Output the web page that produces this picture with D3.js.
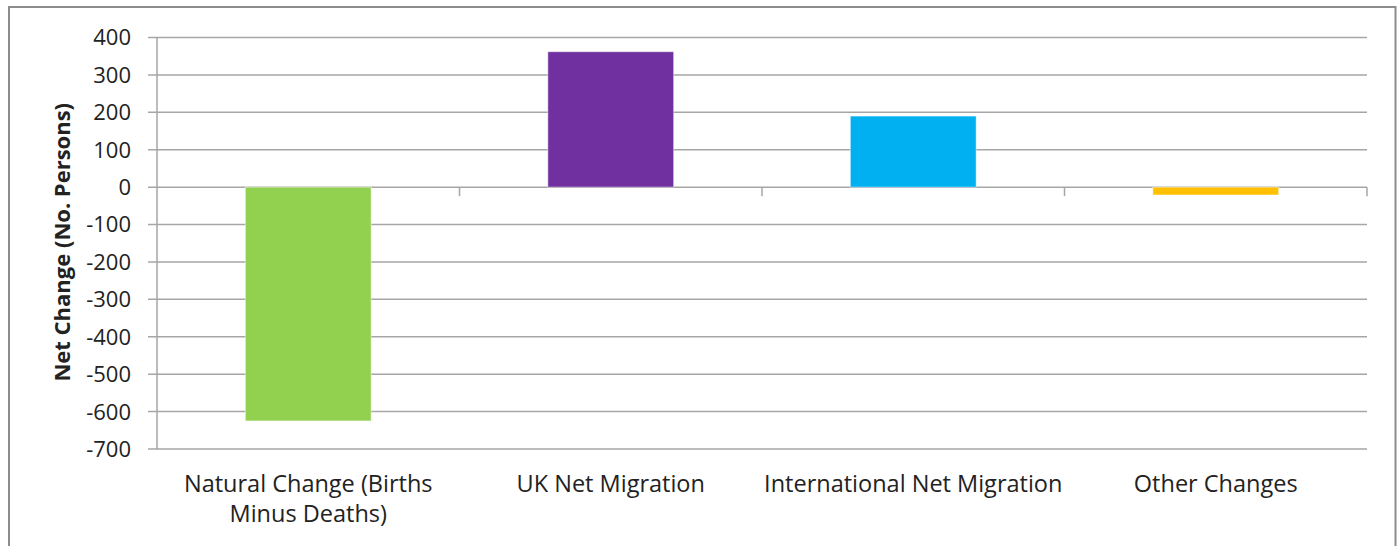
<!DOCTYPE html>
<html>
<head>
<meta charset="utf-8">
<script src="https://cdn.jsdelivr.net/npm/d3@7"></script>
<style>
  body { margin: 0; background: #fff; }
  text { font-family: "Open Sans", "Liberation Sans", sans-serif; fill: #222; }
</style>
</head>
<body>
<div id="viz"></div>
<script>
// data
const categories = ["Natural Change (Births Minus Deaths)", "UK Net Migration", "International Net Migration", "Other Changes"];
const labelLines = [["Natural Change (Births", "Minus Deaths)"], ["UK Net Migration"], ["International Net Migration"], ["Other Changes"]];
const values = [-625, 362, 190, -21];
const barColors = ["#92D050", "#7030A0", "#00B0F0", "#FFC000"];
const yTicks = [400, 300, 200, 100, 0, -100, -200, -300, -400, -500, -600, -700];

const width = 1400;
const height = 546;
const margin = {top: 37.5, right: 33, bottom: 97, left: 157};

const svg = d3.select("#viz").append("svg")
    .attr("width", width)
    .attr("height", height);

// outer chart frame
svg.append("rect")
    .attr("x", 9)
    .attr("y", 7)
    .attr("width", 1386.5)
    .attr("height", 560)
    .attr("fill", "none")
    .attr("stroke", "#8c8c8c")
    .attr("stroke-width", 2);

const x = d3.scaleBand()
    .domain(categories)
    .range([margin.left, width - margin.right])
    .paddingInner(0.584)
    .paddingOuter(0.292);

const y = d3.scaleLinear()
    .domain([-700, 400])
    .range([height - margin.bottom, margin.top]);

// gridlines
svg.append("g")
    .selectAll("line")
    .data(yTicks)
    .join("line")
    .attr("x1", margin.left - 9)
    .attr("x2", width - margin.right)
    .attr("y1", d => y(d))
    .attr("y2", d => y(d))
    .attr("stroke", "#a6a6a6")
    .attr("stroke-width", 1.5);

// y axis line
svg.append("line")
    .attr("x1", margin.left).attr("x2", margin.left)
    .attr("y1", y(400)).attr("y2", y(-700))
    .attr("stroke", "#a6a6a6")
    .attr("stroke-width", 1.5);

// bars
svg.append("g")
    .selectAll("rect")
    .data(values)
    .join("rect")
    .attr("x", (d, i) => x(categories[i]))
    .attr("width", x.bandwidth())
    .attr("y", d => y(Math.max(0, d)))
    .attr("height", d => Math.abs(y(d) - y(0)))
    .attr("fill", (d, i) => barColors[i])
    .attr("stroke", "rgba(255,255,255,0.5)")
    .attr("stroke-width", 1);

// category tick marks on zero line
const step = x.step();
const catTicks = d3.range(categories.length + 1).map(i => margin.left + i * step);
svg.append("g")
    .selectAll("line")
    .data(catTicks.slice(1))
    .join("line")
    .attr("x1", d => d).attr("x2", d => d)
    .attr("y1", y(0)).attr("y2", y(0) + 9)
    .attr("stroke", "#a6a6a6")
    .attr("stroke-width", 1.5);

// y tick labels
svg.append("g")
    .selectAll("text")
    .data(yTicks)
    .join("text")
    .attr("x", margin.left - 26)
    .attr("y", d => y(d))
    .attr("dy", "0.36em")
    .attr("text-anchor", "end")
    .style("font-size", "22px")
    .text(d => d);

// category labels
const labels = svg.append("g")
    .selectAll("text")
    .data(labelLines)
    .join("text")
    .attr("text-anchor", "middle")
    .style("font-size", "23.5px")
    .attr("transform", (d, i) => "translate(" + (x(categories[i]) + x.bandwidth() / 2) + ",492)");

labels.selectAll("tspan")
    .data(d => d)
    .join("tspan")
    .attr("x", 0)
    .attr("dy", (d, i) => i === 0 ? 0 : 30)
    .text(d => d);

// y axis title
svg.append("text")
    .attr("transform", "translate(70," + ((y(400) + y(-700)) / 2 - 1) + ") rotate(-90)")
    .attr("text-anchor", "middle")
    .style("font-size", "22px")
    .style("font-weight", "bold")
    .text("Net Change (No. Persons)");
</script>
</body>
</html>
